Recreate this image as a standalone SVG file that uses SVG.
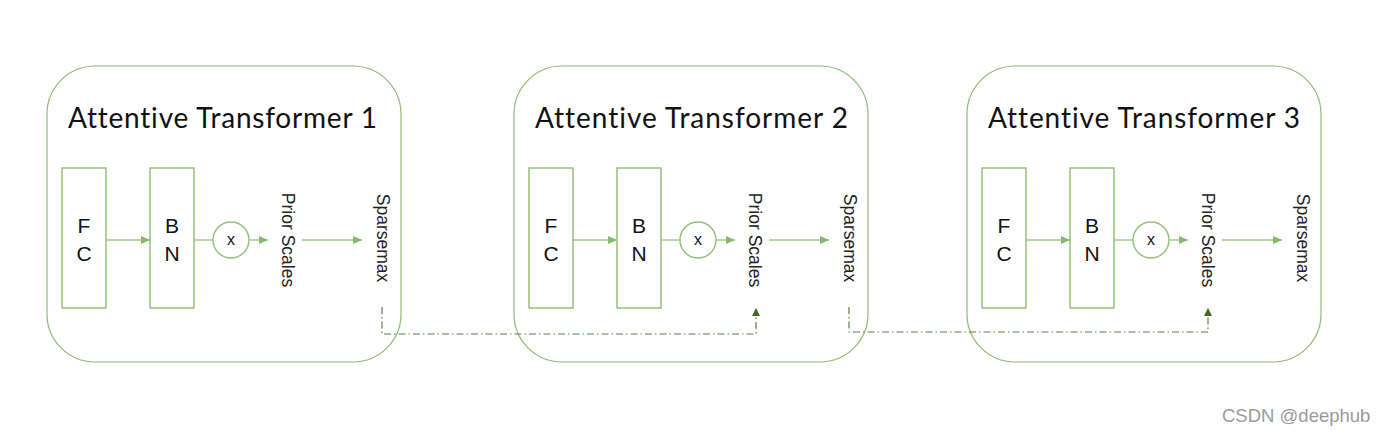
<svg xmlns="http://www.w3.org/2000/svg" width="1384" height="436" viewBox="0 0 1384 436">
<style>
.frame{fill:none;stroke:#8dbb72;stroke-width:1.2}
.blk{fill:#fff;stroke:#93c27a;stroke-width:1.5}
.title{font-family:Lato,"Noto Sans",sans-serif;font-size:28px;fill:#111;font-variant-ligatures:none;font-feature-settings:"liga" 0,"clig" 0,"dlig" 0}
.lbl{font-family:"Liberation Sans",Arial,sans-serif;font-size:21px;fill:#111;text-anchor:middle}
.x{font-family:"Liberation Sans",Arial,sans-serif;font-size:16px;fill:#111;text-anchor:middle}
.rot{font-family:"Liberation Sans",Arial,sans-serif;font-size:17.5px;fill:#222;text-anchor:middle}
.ln{fill:none;stroke:#9cc784;stroke-width:1.4}
.dash{fill:none;stroke:#5d7d48;stroke-width:1.2;stroke-dasharray:7 3 1.5 3}
.wm{font-family:"Liberation Sans",Arial,sans-serif;font-size:18.5px;fill:#9a9a9a}
</style>
<defs>
<marker id="ah" markerWidth="10" markerHeight="8" refX="9" refY="4" orient="auto" markerUnits="userSpaceOnUse">
<path d="M0,0 L9,4 L0,8 Z" fill="#86b86a"/>
</marker>
<marker id="ahd" markerWidth="8" markerHeight="9" refX="7" refY="4" orient="auto" markerUnits="userSpaceOnUse">
<path d="M0,0 L8,4 L0,8 Z" fill="#3f6a2a"/>
</marker>
</defs>
<rect width="1384" height="436" fill="#fff"/>

<g id="node-at1">
<rect class="frame" x="47" y="66" width="354" height="296" rx="48" ry="48"/>
<text class="title" x="68" y="128" textLength="309" lengthAdjust="spacing">Attentive Transformer 1</text>
<rect class="blk" x="62" y="168" width="44" height="140"/>
<text class="lbl" x="84" y="233">F</text><text class="lbl" x="84" y="261">C</text>
<rect class="blk" x="150" y="168" width="44" height="140"/>
<text class="lbl" x="172" y="233">B</text><text class="lbl" x="172" y="261">N</text>
<circle class="blk" cx="231" cy="240" r="18"/>
<text class="x" x="231" y="245">x</text>
<text class="rot" transform="translate(282,240) rotate(90)">Prior Scales</text>
<text class="rot" transform="translate(377,238) rotate(90)">Sparsemax</text>
</g>

<g id="node-at2">
<rect class="frame" x="514" y="66" width="354" height="296" rx="48" ry="48"/>
<text class="title" x="535" y="128" textLength="313" lengthAdjust="spacing">Attentive Transformer 2</text>
<rect class="blk" x="529" y="168" width="44" height="140"/>
<text class="lbl" x="551" y="233">F</text><text class="lbl" x="551" y="261">C</text>
<rect class="blk" x="617" y="168" width="44" height="140"/>
<text class="lbl" x="639" y="233">B</text><text class="lbl" x="639" y="261">N</text>
<circle class="blk" cx="698" cy="240" r="18"/>
<text class="x" x="698" y="245">x</text>
<text class="rot" transform="translate(749,240) rotate(90)">Prior Scales</text>
<text class="rot" transform="translate(844,238) rotate(90)">Sparsemax</text>
</g>

<g id="node-at3">
<rect class="frame" x="967" y="66" width="354" height="296" rx="48" ry="48"/>
<text class="title" x="988" y="128" textLength="312" lengthAdjust="spacing">Attentive Transformer 3</text>
<rect class="blk" x="982" y="168" width="44" height="140"/>
<text class="lbl" x="1004" y="233">F</text><text class="lbl" x="1004" y="261">C</text>
<rect class="blk" x="1070" y="168" width="44" height="140"/>
<text class="lbl" x="1092" y="233">B</text><text class="lbl" x="1092" y="261">N</text>
<circle class="blk" cx="1151" cy="240" r="18"/>
<text class="x" x="1151" y="245">x</text>
<text class="rot" transform="translate(1202,240) rotate(90)">Prior Scales</text>
<text class="rot" transform="translate(1297,238) rotate(90)">Sparsemax</text>
</g>

<g id="connectors">
<path class="ln" d="M106,240 H150" marker-end="url(#ah)"/>
<path class="ln" d="M194,240 H213"/>
<path class="ln" d="M249,240 H268" marker-end="url(#ah)"/>
<path class="ln" d="M302,240 H362" marker-end="url(#ah)"/>

<path class="ln" d="M573,240 H617" marker-end="url(#ah)"/>
<path class="ln" d="M661,240 H680"/>
<path class="ln" d="M716,240 H735" marker-end="url(#ah)"/>
<path class="ln" d="M769,240 H829" marker-end="url(#ah)"/>

<path class="ln" d="M1026,240 H1070" marker-end="url(#ah)"/>
<path class="ln" d="M1114,240 H1133"/>
<path class="ln" d="M1169,240 H1188" marker-end="url(#ah)"/>
<path class="ln" d="M1222,240 H1282" marker-end="url(#ah)"/>

<path class="dash" d="M382,307 V334 H756 V309" marker-end="url(#ahd)"/>
<path class="dash" d="M849,307 V332 H1208 V309" marker-end="url(#ahd)"/>
</g>

<text class="wm" x="1222" y="422">CSDN @deephub</text>
</svg>
